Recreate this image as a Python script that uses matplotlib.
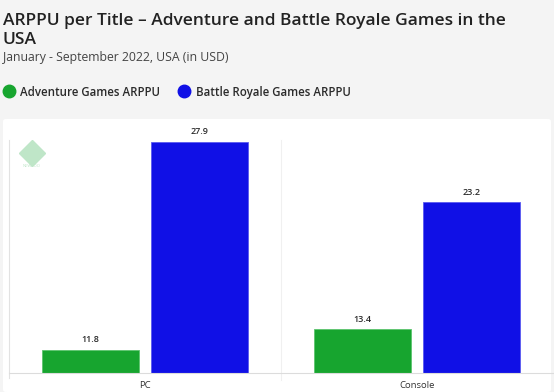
import matplotlib.pyplot as plt
from matplotlib.patches import FancyBboxPatch

categories = ['PC', 'Console']
adventure = [11.8, 13.4]
battle_royale = [27.9, 23.2]
series_names = ['Adventure Games ARPPU', 'Battle Royale Games ARPPU']

GREEN = '#17a52f'
BLUE = '#1010e6'
TEXT = '#2b2b2b'

plt.rcParams['font.family'] = ['Open Sans', 'DejaVu Sans']

fig = plt.figure(figsize=(5.54, 3.92), dpi=100)
fig.patch.set_facecolor('#f4f4f4')

# white panel behind the chart
panel = FancyBboxPatch((3 / 554, 0), 548 / 554, 273 / 392,
                       boxstyle='round,pad=0,rounding_size=0.006',
                       transform=fig.transFigure, facecolor='white',
                       edgecolor='none', zorder=0)
fig.patches.append(panel)

# title block
fig.text(3 / 554, 1 - 25 / 392, 'ARPPU per Title \u2013 Adventure and Battle Royale Games in the',
         fontsize=12.5, fontweight='semibold', color='#222222', ha='left', va='baseline')
fig.text(3 / 554, 1 - 44 / 392, 'USA', fontsize=12.5, fontweight='semibold',
         color='#222222', ha='left', va='baseline')
fig.text(3 / 554, 1 - 57 / 392, 'January - September 2022, USA (in USD)',
         fontsize=8.8, color='#444444', ha='left', va='center')

# legend
for cx, tx, col, name in [(9, 20, GREEN, series_names[0]), (184, 196, BLUE, series_names[1])]:
    fig.lines.append(plt.Line2D([cx / 554], [1 - 91 / 392], marker='o', markersize=9,
                                color=col, transform=fig.transFigure))
    fig.text(tx / 554, 1 - 91 / 392, name, fontsize=8.3, fontweight='semibold',
             color=TEXT, ha='left', va='center_baseline')

ax = fig.add_axes([9 / 554, 19 / 392, 544 / 554, 233 / 392])
ax.set_facecolor('none')
ax.set_zorder(2)

x = list(range(len(categories)))
w = 0.357
off = 0.2
b1 = ax.bar([i - off for i in x], [v - 10 for v in adventure], w, bottom=10,
            color=GREEN, edgecolor='#5cc46e', linewidth=0.6)
b2 = ax.bar([i + off for i in x], [v - 10 for v in battle_royale], w, bottom=10,
            color=BLUE, edgecolor='#5a5af0', linewidth=0.6)

for bars, vals in [(b1, adventure), (b2, battle_royale)]:
    for r, v in zip(bars, vals):
        ax.annotate(f'{v}', (r.get_x() + r.get_width() / 2, v), xytext=(0, 4),
                    textcoords='offset points', ha='center', va='bottom',
                    fontsize=6.5, fontweight='semibold', color=TEXT)

ax.set_xlim(-0.5, len(categories) - 0.5)
ax.set_ylim(10, 28.03)
ax.set_xticks(x)
ax.set_xticklabels(categories, fontsize=6.8, color='#333333')
ax.tick_params(axis='x', length=0, pad=6)
ax.set_yticks([])
for s in ['top', 'right']:
    ax.spines[s].set_visible(False)
ax.spines['left'].set_color('#e2e2e2')
ax.spines['bottom'].set_color('#dcdcdc')
ax.spines['left'].set_bounds(9.6, 28.03)
ax.spines['bottom'].set_linewidth(0.8)
ax.axvline(0.5, ymin=-0.03, ymax=1, color='#f0f0f0', linewidth=0.8, clip_on=False)

# faint watermark logo
ax.plot([-0.415], [27.0], marker='D', markersize=13, color='#bfe6c8', zorder=0.5)
ax.text(-0.415, 26.0, 'NEWZOO', fontsize=3, color='#bfe6c8', ha='center', va='center')

fig.savefig('out.png', dpi=100, facecolor=fig.get_facecolor())
